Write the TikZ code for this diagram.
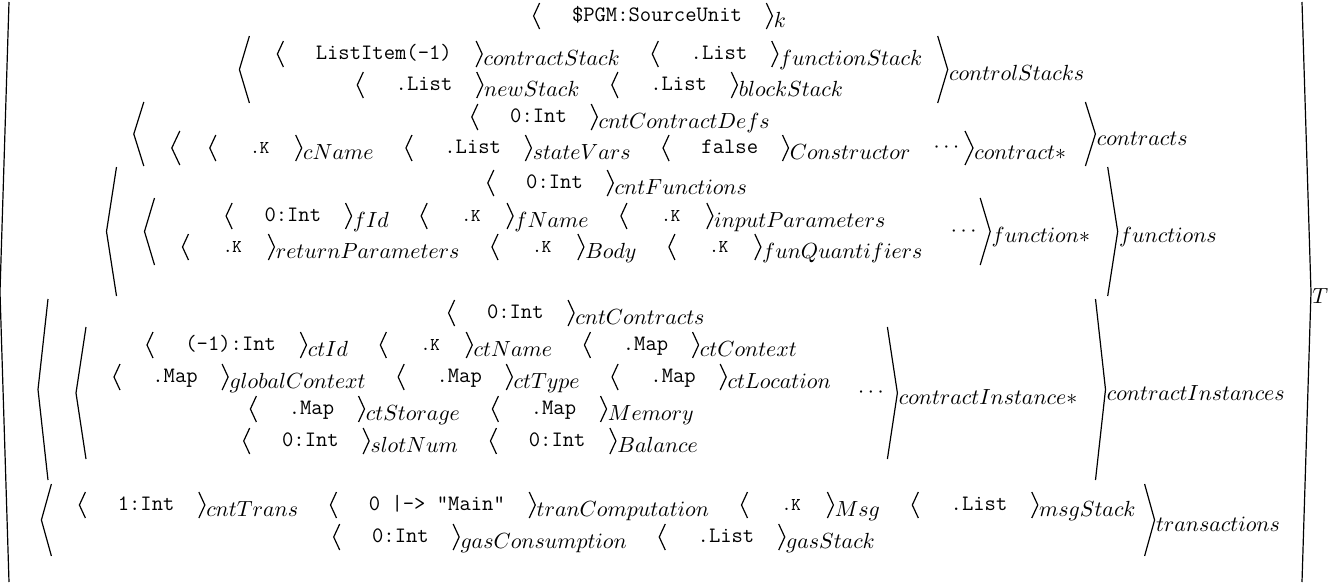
\documentclass[tikz,border=0pt]{standalone}

% leaf cell: the tip coordinate (name-t) is set, then content, brackets and label
\newcommand{\kbody}[3]{%
  \node[leaf] (#1) at ([xshift=19pt]#1-t) {#2};
  \draw[brk] ([shift={(6,-13)}]#1-t) -- (#1-t) -- ([shift={(6,13)}]#1-t);
  \draw[brk] (#1.east) ++(24,-13) -- ++(6,13) -- ++(-6,13);
  \path (#1.east) ++(31,6) node[lbl] (#1-l) {$#3$};}
% first cell of a row: name, x, y, content, label
\newcommand{\kleaf}[5]{\coordinate (#1-t) at (#2,#3); \kbody{#1}{#4}{#5}}
% next cell of a row: name, previous cell, content, label
\newcommand{\knext}[4]{\coordinate (#1-t) at ([shift={(32,-6)}]#2-l.east); \kbody{#1}{#3}{#4}}
\newcommand{\dotK}{\makebox[11.55pt]{\fontsize{9}{10}\selectfont .K}}

\begin{document}
\begin{tikzpicture}[x=0.5pt,y=-0.5pt,
  brk/.style={line width=0.6pt,line join=miter},
  leaf/.style={font=\fontsize{11}{13}\selectfont\ttfamily,inner sep=0pt,anchor=west,
    text height=7.5pt,text depth=2.5pt},
  lbl/.style={font=\fontsize{11}{13}\selectfont,inner sep=0pt,anchor=west,
    text height=7.5pt,text depth=2.5pt},
  dots/.style={font=\fontsize{11}{13}\selectfont,inner sep=0pt}]
 \useasboundingbox (0,0) rectangle (1340,584);

 % the big cells: left tip, right tip, width, top, bottom
 \foreach \a/\b/\w/\t/\u/\nm/\lab in {
   0/1311/9/2/582/T/T,
   239.4/947.7/10/36/103/cs/controlStacks,
   133.8/1095.4/10/102/166/ctrs/contracts,
   171.8/973/8/131/165/ctr/contract{*},
   106.5/1117.7/10/167/296/funs/functions,
   144.5/990.2/10/198/265/fun/function{*},
   38/1105.5/10/299/480/cis/contractInstances,
   76/897.4/10/327/459/ci/contractInstance{*},
   41.4/1154.6/10/484/556/trs/transactions} {
  \draw[brk] (\a+\w,\t) -- (\a,{(\t+\u)/2}) -- (\a+\w,\u);
  \draw[brk] (\b-\w,\t) -- (\b,{(\t+\u)/2}) -- (\b-\w,\u);
  \node[lbl] (\nm) at (\b+1,{(\t+\u)/2+6}) {$\lab$};
 }

 % k and controlStacks
 \kleaf{k}{533.6}{16}{\$PGM:SourceUnit}{k}
 \kleaf{cst}{277.4}{54}{ListItem(-1)}{contractStack}
 \knext{fst}{cst}{.List}{functionStack}
 \kleaf{nst}{357.3}{85}{.List}{newStack}
 \knext{bst}{nst}{.List}{blockStack}

 % contracts
 \kleaf{ccd}{471.8}{117}{0:Int}{cntContractDefs}
 \kleaf{cn}{209.8}{148}{\dotK}{cName}
 \knext{sv}{cn}{.List}{stateVars}
 \knext{con}{sv}{false}{Constructor}
 \node[dots] (dots1) at (946.5,148) {$\cdots$};

 % functions
 \kleaf{cf}{487.8}{183}{0:Int}{cntFunctions}
 \kleaf{fid}{226.1}{216}{0:Int}{fId}
 \knext{fn}{fid}{\dotK}{fName}
 \knext{ip}{fn}{\dotK}{inputParameters}
 \kleaf{rp}{182.5}{247}{\dotK}{returnParameters}
 \knext{bd}{rp}{\dotK}{Body}
 \knext{fq}{bd}{\dotK}{funQuantifiers}
 \node[dots] (dots2) at (963.7,231.5) {$\cdots$};

 % contractInstances
 \kleaf{cc}{448.6}{313}{0:Int}{cntContracts}
 \kleaf{cid}{147}{345}{(-1):Int}{ctId}
 \knext{cnm}{cid}{\dotK}{ctName}
 \knext{cctx}{cnm}{.Map}{ctContext}
 \kleaf{gc}{114}{377}{.Map}{globalContext}
 \knext{cty}{gc}{.Map}{ctType}
 \knext{cloc}{cty}{.Map}{ctLocation}
 \kleaf{cstg}{250.4}{409}{.Map}{ctStorage}
 \knext{mem}{cstg}{.Map}{Memory}
 \kleaf{sn}{243.7}{441}{0:Int}{slotNum}
 \knext{bal}{sn}{0:Int}{Balance}
 \node[dots] (dots3) at (870.9,393) {$\cdots$};

 % transactions
 \kleaf{ct}{79.4}{505}{1:Int}{cntTrans}
 \knext{tc}{ct}{0 |-> "Main"}{tranComputation}
 \knext{msg}{tc}{\dotK}{Msg}
 \knext{ms}{msg}{.List}{msgStack}
 \kleaf{gcs}{333.7}{537}{0:Int}{gasConsumption}
 \knext{gs}{gcs}{.List}{gasStack}
\end{tikzpicture}
\end{document}
